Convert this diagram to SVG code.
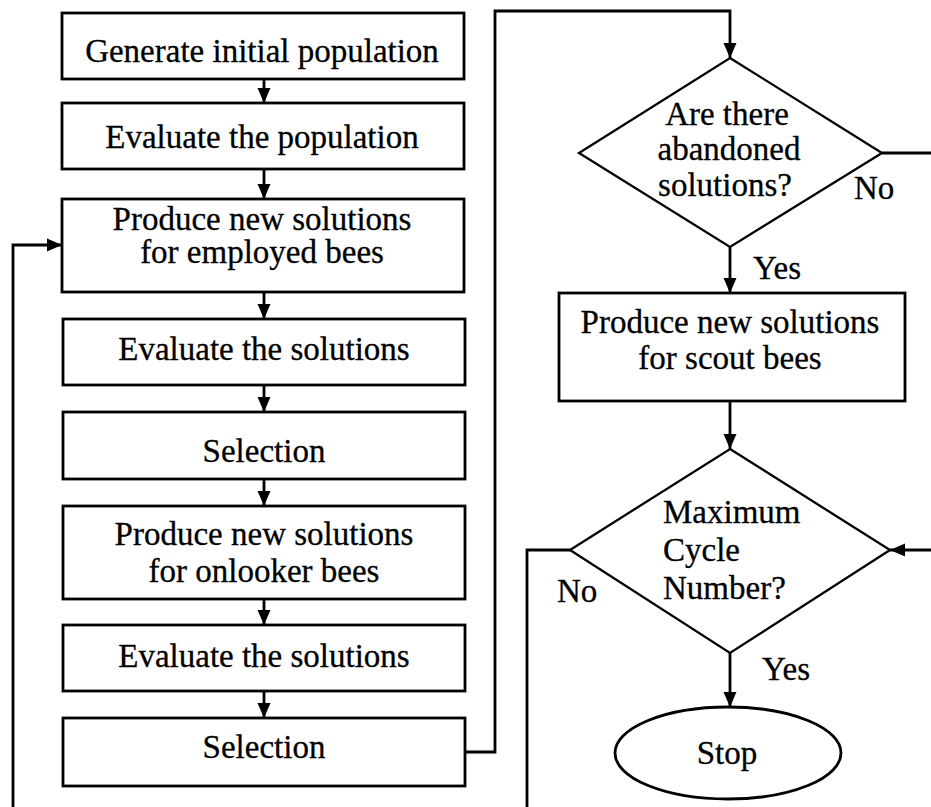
<svg xmlns="http://www.w3.org/2000/svg" width="931" height="807" viewBox="0 0 931 807">
<defs>
<marker id="ah" markerUnits="userSpaceOnUse" markerWidth="15" markerHeight="14" viewBox="0 0 15 14" refX="15" refY="7" orient="auto">
<path d="M0,0.5 L15,7 L0,13.5 z" fill="#000"/>
</marker>
</defs>
<style>
.b, .d, .e { fill: #fff; stroke: #000; stroke-width: 2.8; }
.d { stroke-width: 2.3; }
.c { fill: none; stroke: #000; stroke-width: 2.8; }
.a { marker-end: url(#ah); }
text { font-family: "Liberation Serif", "Times New Roman", serif; font-size: 33px; fill: #000; stroke: #000; stroke-width: 0.3; }
.m { text-anchor: middle; }
</style>
<rect x="0" y="0" width="931" height="807" fill="#fff"/>
<g id="connectors">
<line class="c a" x1="264" y1="79" x2="264" y2="103"/>
<line class="c a" x1="264" y1="169" x2="264" y2="199"/>
<line class="c a" x1="264" y1="292" x2="264" y2="319"/>
<line class="c a" x1="264" y1="385" x2="264" y2="412"/>
<line class="c a" x1="264" y1="479" x2="264" y2="506"/>
<line class="c a" x1="264" y1="599" x2="264" y2="625"/>
<line class="c a" x1="264" y1="691" x2="264" y2="718"/>
<polyline class="c a" points="13,807 13,245 62,245"/>
<polyline class="c a" points="464,752 495,752 495,11 730,11 730,58"/>
<line class="c" x1="882" y1="153" x2="931" y2="153"/>
<line class="c a" x1="730" y1="247" x2="730" y2="293"/>
<line class="c a" x1="730" y1="401" x2="730" y2="449"/>
<line class="c a" x1="931" y1="550" x2="890" y2="550"/>
<polyline class="c" points="570,550 527,550 527,807"/>
<line class="c a" x1="730" y1="653" x2="730" y2="707"/>
<text x="854" y="199">No</text>
<text x="753" y="279">Yes</text>
<text x="557" y="602">No</text>
<text x="762" y="680">Yes</text>
</g>
<g id="n1"><rect class="b" x="62" y="13" width="402" height="66"/><text class="m" x="262" y="62">Generate initial population</text></g>
<g id="n2"><rect class="b" x="62" y="103" width="402" height="66"/><text class="m" x="262" y="148">Evaluate the population</text></g>
<g id="n3"><rect class="b" x="62" y="199" width="402" height="93"/><text class="m" x="262" y="230">Produce new solutions</text><text class="m" x="262" y="263">for employed bees</text></g>
<g id="n4"><rect class="b" x="63" y="319" width="402" height="66"/><text class="m" x="264" y="360">Evaluate the solutions</text></g>
<g id="n5"><rect class="b" x="63" y="412" width="402" height="67"/><text class="m" x="264" y="462">Selection</text></g>
<g id="n6"><rect class="b" x="63" y="506" width="402" height="93"/><text class="m" x="264" y="545">Produce new solutions</text><text class="m" x="264" y="582">for onlooker bees</text></g>
<g id="n7"><rect class="b" x="63" y="625" width="402" height="66"/><text class="m" x="264" y="667">Evaluate the solutions</text></g>
<g id="n8"><rect class="b" x="63" y="718" width="402" height="68"/><text class="m" x="264" y="758">Selection</text></g>
<g id="d1"><polygon class="d" points="730,58 882,153 730,247 579,153"/><text class="m" x="727" y="125">Are there</text><text class="m" x="729" y="160">abandoned</text><text class="m" x="725" y="196">solutions?</text></g>
<g id="n9"><rect class="b" x="559" y="293" width="346" height="108"/><text class="m" x="730" y="333">Produce new solutions</text><text class="m" x="730" y="369">for scout bees</text></g>
<g id="d2"><polygon class="d" points="730,449 890,550 730,653 570,550"/><text x="663" y="523">Maximum</text><text x="663" y="561">Cycle</text><text x="663" y="599">Number?</text></g>
<g id="stop"><ellipse class="e" cx="728" cy="753" rx="113" ry="46"/><text class="m" x="727" y="764">Stop</text></g>
</svg>
